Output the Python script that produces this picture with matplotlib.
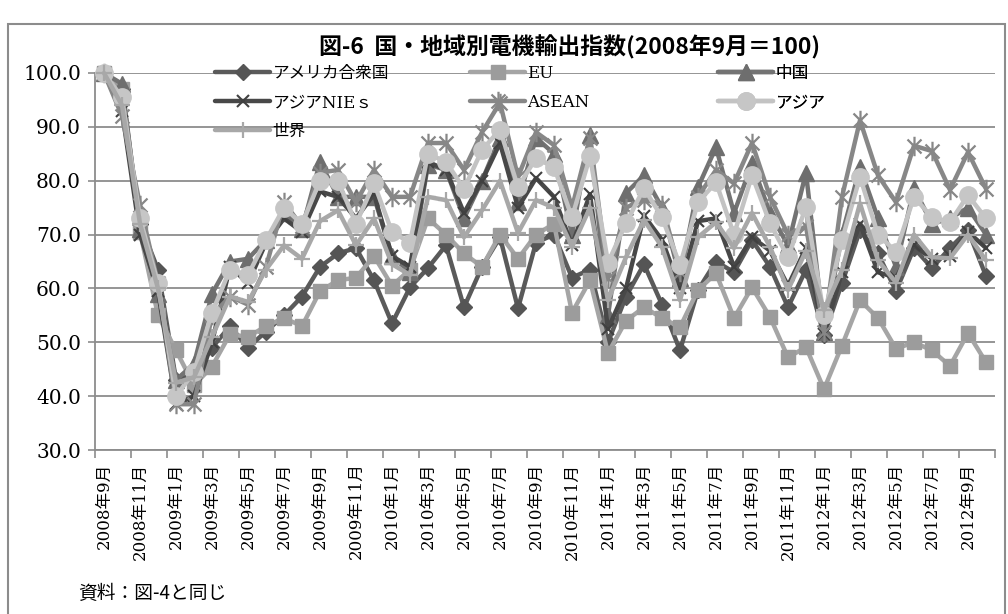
import matplotlib
matplotlib.use("Agg")
import matplotlib.pyplot as plt
from matplotlib.path import Path
from matplotlib.patches import Rectangle

# Monthly categories, September 2008 to October 2012
months = [
    "2008年9月", "2008年10月", "2008年11月", "2008年12月",
    "2009年1月", "2009年2月", "2009年3月", "2009年4月", "2009年5月", "2009年6月",
    "2009年7月", "2009年8月", "2009年9月", "2009年10月", "2009年11月", "2009年12月",
    "2010年1月", "2010年2月", "2010年3月", "2010年4月", "2010年5月", "2010年6月",
    "2010年7月", "2010年8月", "2010年9月", "2010年10月", "2010年11月", "2010年12月",
    "2011年1月", "2011年2月", "2011年3月", "2011年4月", "2011年5月", "2011年6月",
    "2011年7月", "2011年8月", "2011年9月", "2011年10月", "2011年11月", "2011年12月",
    "2012年1月", "2012年2月", "2012年3月", "2012年4月", "2012年5月", "2012年6月",
    "2012年7月", "2012年8月", "2012年9月", "2012年10月",
]

usa = [100, 97, 72, 63.5, 43, 44, 49, 53, 49, 52, 55, 58.5, 64, 66.5, 67.5, 61.5,
       53.5, 60.2, 63.8, 68, 56.5, 64, 69.5, 56.3, 68.5, 70, 62, 63.5, 50, 58.5,
       64.5, 57, 48.5, 59.7, 65, 63, 69, 64, 56.5, 63.5, 51.3, 61, 70.8, 66.5,
       59.5, 67.5, 63.8, 67.5, 70.8, 62.3]
eu = [100, 97, 70.5, 55, 48.5, 42, 45.5, 51.5, 51, 53, 54.5, 53, 59.5, 61.5, 62, 66,
      60.5, 63.5, 73, 70, 66.5, 64, 70, 65.5, 70, 72, 55.5, 61.5, 48, 54,
      56.5, 54.5, 52.8, 59.7, 62.8, 54.5, 60.2, 54.7, 47.2, 49.1, 41.3, 49.4, 57.8, 54.5,
      48.8, 50, 48.5, 45.6, 51.7, 46.3]
china = [100, 98, 71, 59, 43, 46, 59, 65, 65.5, 69, 74, 71, 83.5, 77, 77, 77,
         66, 63, 83, 82, 73, 80, 88, 76, 88, 85, 70, 88.5, 55, 77.7,
         81, 75, 62, 78.8, 86.2, 74, 83.2, 74, 68, 81.5, 52, 70, 82.5, 73,
         64, 78.6, 72, 73, 75, 70]
nies = [100, 93, 70, 59.5, 38.5, 40, 50, 64, 61, 68.5, 73, 70.5, 78, 77, 73, 77.5,
        66, 64, 83.5, 82, 74, 80, 87, 75, 80.5, 77, 68, 77.5, 52.5, 60,
        73.5, 69, 60, 72.5, 73, 64, 69.5, 67, 60.5, 67.5, 51.5, 63, 72, 63,
        62, 68, 65.5, 66, 70.5, 67.5]
asean = [100, 92, 75.5, 61, 38.5, 38.5, 55, 58.5, 57, 64, 76, 71.5, 81.5, 82, 76, 82,
         77, 77, 87, 87, 82, 89, 94.5, 80.7, 89, 86.6, 75, 88, 62, 75,
         76.5, 75.5, 63, 77, 82, 79.5, 87, 77, 70, 71.5, 52, 77, 91.2, 81,
         76, 86.5, 85.5, 78.3, 85.3, 78.5]
asia = [100, 95.5, 73, 61, 40, 44.5, 55.5, 63.5, 62.5, 69, 75, 72, 80, 80, 72, 79.5,
        70.5, 68.5, 85, 83.5, 78.5, 85.7, 89.5, 78.8, 84.2, 82.5, 73.2, 84.5, 64.8, 72.1,
        78.6, 73.2, 64.3, 76, 79.7, 70, 81, 72.1, 65.8, 75.1, 55, 69, 80.7, 70,
        66.8, 77, 73.2, 72.3, 77.3, 73]
world = [100, 94, 72, 60, 42.5, 43.5, 51, 58.5, 57.5, 63.5, 68, 65.5, 72.5, 74.5, 68, 73,
         64.5, 62.5, 77, 76.4, 69.5, 74.5, 80, 70.3, 76.4, 75, 67.7, 75, 57.8, 65.8,
         72.7, 67.7, 57.8, 69.5, 72.3, 67.5, 74, 67.7, 59.7, 67, 56, 63.4, 75.8, 65.2,
         61.1, 70, 65.8, 65.6, 70, 65.2]

series_names = ["アメリカ合衆国", "EU", "中国", "アジアNIEｓ", "ASEAN", "アジア", "世界"]

LATIN_JP = ["DejaVu Serif", "Noto Sans CJK JP"]
plt.rcParams["font.family"] = LATIN_JP

# Excel-style star marker: vertical bar crossed by an X
star = Path([(0, -1), (0, 1), (-0.72, -0.72), (0.72, 0.72), (-0.72, 0.72), (0.72, -0.72)],
            [Path.MOVETO, Path.LINETO, Path.MOVETO, Path.LINETO, Path.MOVETO, Path.LINETO])

styles = [
    dict(color="#5a5a5a", marker="D", ms=8, mfc="#555555", mec="#555555", mew=1),
    dict(color="#a5a5a5", marker="s", ms=10.5, mfc="#9c9c9c", mec="#9c9c9c", mew=1),
    dict(color="#737373", marker="^", ms=11, mfc="#6e6e6e", mec="#6e6e6e", mew=1),
    dict(color="#484848", marker="x", ms=8, mfc="none", mec="#404040", mew=1.5),
    dict(color="#878787", marker=star, ms=14, mfc="none", mec="#878787", mew=1.6),
    dict(color="#c3c3c3", marker="o", ms=12.5, mfc="#c6c6c6", mec="#c6c6c6", mew=1),
    dict(color="#a8a8a8", marker="+", ms=12, mfc="none", mec="#a8a8a8", mew=1.6),
]

fig = plt.figure(figsize=(10.08, 6.14), dpi=100)
ax = fig.add_axes([95 / 1008, 1 - 450 / 614, 900 / 1008, 377 / 614])

x = list(range(len(months)))
handles = []
for k, (vals, st) in enumerate(zip([usa, eu, china, nies, asean, asia, world], styles)):
    h, = ax.plot(x, vals, lw=3.2, solid_joinstyle="round", solid_capstyle="round",
                 clip_on=False, zorder=3 + k, label=series_names[k], **st)
    handles.append(h)

ax.set_xlim(-0.5, len(months) - 0.5)
ax.set_ylim(30, 100)
ax.set_yticks(range(30, 101, 10))
ax.set_yticklabels([f"{v:.1f}" for v in range(30, 101, 10)], fontsize=14.5,
                   family="DejaVu Serif")
ax.yaxis.grid(True, color="#8c8c8c", lw=1.3)
ax.set_axisbelow(True)

# Tick marks sit between category pairs; labels on every other month
ax.set_xticks([i - 0.5 for i in range(0, len(months) + 1, 2)])
ax.set_xticklabels([])
ax.set_xticks(x[::2], minor=True)
ax.set_xticklabels(months[::2], minor=True, rotation=90, fontsize=12,
                   va="top", ha="center")
ax.tick_params(axis="x", which="major", direction="out", length=6, width=1.2,
               color="#8c8c8c")
ax.tick_params(axis="x", which="minor", length=0, pad=9)
ax.tick_params(axis="y", direction="out", length=5, width=1.2, color="#8c8c8c", pad=5)

for side in ("top", "right"):
    ax.spines[side].set_visible(False)
for side in ("left", "bottom"):
    ax.spines[side].set_color("#8c8c8c")
    ax.spines[side].set_linewidth(1.3)

# Legend laid out in three columns, row by row
columns = [[0, 3, 6], [1, 4], [2, 5]]
col_x = [215, 470, 718]
for cx, idx in zip(col_x, columns):
    leg = ax.legend([handles[i] for i in idx], [series_names[i] for i in idx],
                    loc="upper left", bbox_to_anchor=(cx / 1008, 1 - 65 / 614),
                    bbox_transform=fig.transFigure, frameon=False, fontsize=12,
                    handlelength=3.3, handletextpad=0.15, labelspacing=0.72,
                    borderpad=0, borderaxespad=0, numpoints=1)
    ax.add_artist(leg)

fig.text(570 / 1008, 1 - 47 / 614, "図-6  国・地域別電機輸出指数(2008年9月＝100)",
         ha="center", va="center", fontsize=16.5, fontweight="bold",
         family=["Noto Sans CJK JP"])
fig.text(78 / 1008, 1 - 593 / 614, "資料：図-4と同じ", ha="left", va="center",
         fontsize=13.5, family=["Noto Sans CJK JP"])

fig.patches.append(Rectangle((8 / 1008, -0.02), 997 / 1008, 1 - 24 / 614 + 0.02,
                             transform=fig.transFigure, fill=False,
                             edgecolor="#8c8c8c", lw=1.5))

fig.savefig("out.png", dpi=100)
